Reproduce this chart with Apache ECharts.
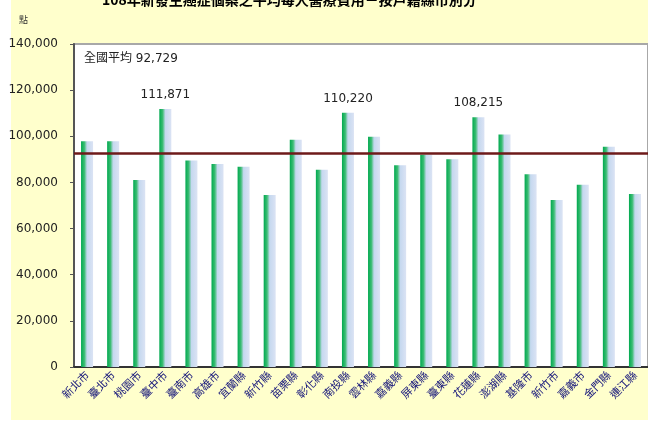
<!DOCTYPE html>
<html>
<head>
    <meta charset="utf-8">
    <script src="https://cdn.jsdelivr.net/npm/echarts@6/dist/echarts.min.js"></script>
    <style>
        body { margin: 0; background: #fff; }
        #bg { position: absolute; left: 11px; top: 0; width: 637px; height: 420px; background: #ffffcc; }
        #main { position: absolute; left: 0; top: 0; width: 648px; height: 421px; }
    </style>
</head>
<body>
    <div id="bg"></div>
    <div id="main"></div>
</body>
<script type="text/javascript">
    // 縣市別 and 平均每人醫療費用 (點)
    const counties = ['新北市', '臺北市', '桃園市', '臺中市', '臺南市', '高雄市', '宜蘭縣', '新竹縣',
        '苗栗縣', '彰化縣', '南投縣', '雲林縣', '嘉義縣', '屏東縣', '臺東縣', '花蓮縣',
        '澎湖縣', '基隆市', '新竹市', '嘉義市', '金門縣', '連江縣'];
    const costs = [97900, 97800, 81000, 111871, 89500, 88000, 86800, 74500,
        98500, 85500, 110220, 99800, 87500, 92000, 90000, 108215,
        100800, 83500, 72400, 79000, 95500, 75000];
    const nationalAvg = 92729;
    const labelled = [111871, 110220, 108215];

    const myChart = echarts.init(document.getElementById('main'));

    const barColor = new echarts.graphic.LinearGradient(0, 0, 1, 0, [
        { offset: 0, color: '#00a94f' },
        { offset: 0.28, color: '#3cbd74' },
        { offset: 0.5, color: '#c5d8ef' },
        { offset: 1, color: '#dbe3f4' }
    ]);

    let option = {
        backgroundColor: 'transparent',
        animation: false,
        title: [
            {
                text: '108年新發生癌症個案之平均每人醫療費用－按戶籍縣市別分',
                left: 97,
                top: -12,
                textStyle: { fontSize: 14, fontWeight: 'bold', color: '#000', fontFamily: 'Noto Sans CJK TC' }
            },
            {
                text: '點',
                left: 14,
                top: 10,
                textStyle: { fontSize: 9, fontWeight: 'normal', color: '#333', fontFamily: 'Noto Sans CJK TC' }
            },
            {
                text: '全國平均 ' + nationalAvg.toLocaleString('en-US'),
                left: 79,
                top: 48,
                textStyle: { fontSize: 12, fontWeight: 'normal', color: '#222', fontFamily: 'DejaVu Sans, Noto Sans CJK TC' }
            }
        ],
        grid: {
            left: 74,
            right: 0,
            top: 44,
            bottom: 54,
            show: true,
            backgroundColor: '#fff',
            borderColor: '#a8a8a8',
            borderWidth: 2
        },
        xAxis: {
            type: 'category',
            data: counties,
            axisLine: { lineStyle: { color: '#333', width: 2 } },
            axisTick: { inside: true, length: 3, lineStyle: { color: '#333' } },
            axisLabel: {
                rotate: 45,
                interval: 0,
                color: '#15157a',
                fontSize: 11,
                margin: 6,
                fontFamily: 'Noto Sans CJK TC'
            }
        },
        yAxis: {
            type: 'value',
            min: 0,
            max: 140000,
            interval: 20000,
            splitLine: { show: false },
            axisLine: { show: true, lineStyle: { color: '#555', width: 2 } },
            axisTick: { show: true, length: 4, lineStyle: { color: '#555' } },
            axisLabel: {
                color: '#222',
                fontSize: 12,
                margin: 16,
                fontFamily: 'DejaVu Sans',
                formatter: v => v.toLocaleString('en-US')
            }
        },
        series: [
            {
                type: 'bar',
                data: costs.map(v => ({
                    value: v,
                    label: { show: labelled.includes(v) }
                })),
                barWidth: 12,
                itemStyle: { color: barColor },
                label: {
                    position: 'top',
                    distance: 8,
                    color: '#222',
                    fontSize: 12,
                    fontFamily: 'DejaVu Sans',
                    formatter: p => p.value.toLocaleString('en-US')
                },
                markLine: {
                    silent: true,
                    symbol: 'none',
                    label: { show: false },
                    lineStyle: { color: '#6e1a1a', width: 2.5, type: 'solid' },
                    data: [{ yAxis: nationalAvg }]
                }
            }
        ]
    };
    option && myChart.setOption(option);
</script>
</html>
